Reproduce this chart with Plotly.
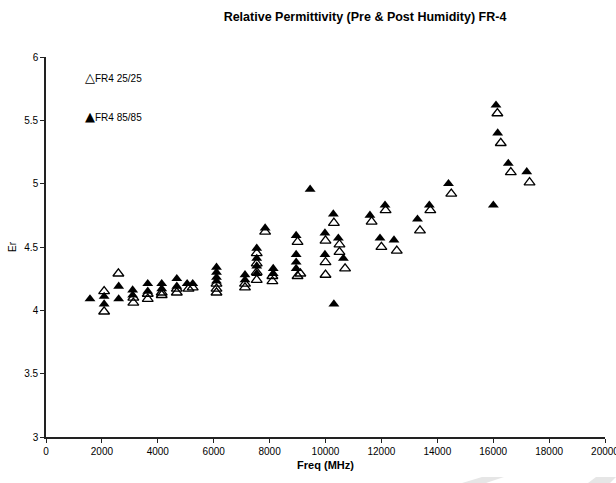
import plotly.graph_objects as go

# FR4 25/25 (open triangles)
freq_2525 = [2080, 2080, 2590, 3125, 3125, 3640, 3640, 4140, 4140, 4680, 4680, 5100, 5250,
             6100, 6100, 6100, 7120, 7120, 7540, 7540, 7540, 7540, 7840, 8100, 8100,
             9000, 9000, 9100, 10000, 10000, 10000, 10300, 10500, 10500, 10700,
             11650, 12000, 12150, 12550, 13380, 13750, 14500, 16150, 16270, 16630, 17300]
er_2525 = [4.15, 3.99, 4.29, 4.10, 4.06, 4.13, 4.09, 4.14, 4.12, 4.17, 4.14, 4.17, 4.18,
           4.21, 4.17, 4.14, 4.21, 4.18, 4.45, 4.37, 4.30, 4.24, 4.62, 4.27, 4.23,
           4.54, 4.27, 4.29, 4.55, 4.38, 4.28, 4.69, 4.52, 4.46, 4.33,
           4.70, 4.50, 4.79, 4.47, 4.63, 4.79, 4.92, 5.555, 5.32, 5.09, 5.01]

# FR4 85/85 (filled triangles)
freq_8585 = [1574, 2080, 2080, 2600, 2600, 3100, 3100, 3640, 3640, 4140, 4140, 4680, 4680,
             5050, 5250, 6100, 6100, 6100, 6100, 7120, 7120, 7540, 7540, 7540, 7540, 7840,
             8130, 8130, 8950, 8950, 8950, 8950, 9450, 9980, 9980, 10280, 10300, 10460,
             10640, 11590, 11950, 12130, 12450, 13290, 13715, 14400, 16005, 16100, 16160,
             16540, 17200]
er_8585 = [4.09, 4.11, 4.05, 4.19, 4.09, 4.16, 4.12, 4.21, 4.15, 4.21, 4.17, 4.25, 4.19,
           4.21, 4.21, 4.34, 4.30, 4.26, 4.23, 4.28, 4.24, 4.49, 4.41, 4.35, 4.29, 4.65,
           4.33, 4.29, 4.59, 4.44, 4.38, 4.33, 4.955, 4.61, 4.44, 4.76, 4.05, 4.57,
           4.41, 4.75, 4.57, 4.83, 4.555, 4.72, 4.83, 5.00, 4.83, 5.62, 5.40,
           5.16, 5.094]

series_names = ["FR4 25/25", "FR4 85/85"]
legend_glyphs = ["\u25B3", "\u25B2"]

x_ticks = [0, 2000, 4000, 6000, 8000, 10000, 12000, 14000, 16000, 18000, 20000]
y_ticks = [3, 3.5, 4, 4.5, 5, 5.5, 6]
y_tick_labels = ["3", "3.5", "4", "4.5", "5", "5.5", "6"]

font = "Liberation Sans, Arial, sans-serif"

fig = go.Figure()
fig.add_trace(go.Scatter(
    x=freq_2525, y=er_2525, mode="markers", name=series_names[0],
    marker=dict(symbol="triangle-up-open", size=9.5, color="black", line=dict(width=1.3, color="black")),
))
fig.add_trace(go.Scatter(
    x=freq_8585, y=er_8585, mode="markers", name=series_names[1],
    marker=dict(symbol="triangle-up", size=9.5, color="black", line=dict(width=0)),
))

def px2paper_x(px):
    return (px - 46) / 559.0

def px2paper_y(py):
    return (437 - py) / 380.0

shapes = []
for pts in ([(482, 477), (504, 477), (486, 483), (462, 483)],
            [(596, 477), (616, 477), (610, 483), (588, 483)]):
    path = "M " + " L ".join(f"{px2paper_x(a):.4f},{px2paper_y(b):.4f}" for a, b in pts) + " Z"
    shapes.append(dict(type="path", xref="paper", yref="paper", path=path,
                       fillcolor="#e6e6e6", line=dict(width=0), layer="below"))

annotations = []
for i, (glyph, name) in enumerate(zip(legend_glyphs, series_names)):
    annotations.append(dict(
        text=f'<span style="font-size:13px;font-family:DejaVu Sans">{glyph}</span>{name}',
        xref="paper", yref="paper",
        x=px2paper_x(83), y=px2paper_y(78 + 38 * i), xanchor="left", yanchor="middle",
        showarrow=False, font=dict(size=10, family=font, color="black"),
    ))

fig.update_layout(
    width=616, height=483,
    margin=dict(l=46, r=11, t=57, b=46, autoexpand=False),
    paper_bgcolor="white", plot_bgcolor="white",
    font=dict(family=font, size=10, color="black"),
    title=dict(text="<b>Relative Permittivity (Pre &amp; Post Humidity) FR-4</b>",
               x=365 / 616, xanchor="center", y=1 - 17 / 483, yanchor="middle",
               font=dict(size=12.5, family=font)),
    showlegend=False,
    xaxis=dict(range=[0, 20000], tickvals=x_ticks, ticktext=[str(v) for v in x_ticks],
               showgrid=False, zeroline=False, showline=True, linecolor="#222", linewidth=1.6,
               ticks="outside", ticklen=4, tickcolor="#222", tickfont=dict(size=10),
               ticklabeloverflow="allow", automargin=False,
               title=dict(text="<b>Freq (MHz)</b>", font=dict(size=11), standoff=6)),
    yaxis=dict(range=[3, 6], tickvals=y_ticks, ticktext=y_tick_labels,
               showgrid=False, zeroline=False, showline=True, linecolor="#222", linewidth=1.6,
               ticks="outside", ticklen=4, tickcolor="#222", tickfont=dict(size=10),
               automargin=False,
               title=dict(text="Er", font=dict(size=10), standoff=6)),
    shapes=shapes,
    annotations=annotations,
)

fig.write_html("out.html")
